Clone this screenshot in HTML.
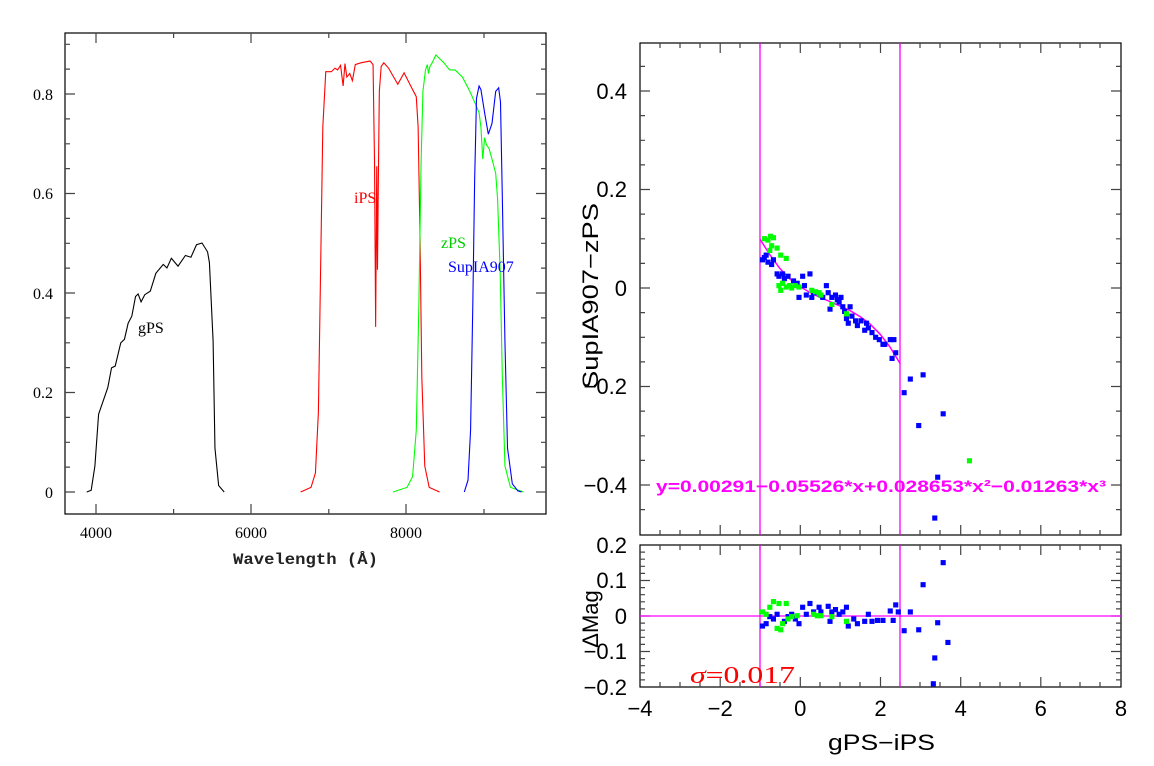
<!DOCTYPE html>
<html><head><meta charset="utf-8"><style>
html,body{margin:0;padding:0;background:#fff;}
svg{display:block;}
.ls{font-family:"Liberation Serif",serif;font-size:16px;}
.rs{font-family:"Liberation Sans",sans-serif;font-size:22px;}
</style></head><body>
<svg width="1154" height="766" viewBox="0 0 1154 766" xmlns="http://www.w3.org/2000/svg">
<!-- LEFT PLOT -->
<rect x="65" y="33" width="481" height="481" fill="none" stroke="#000" stroke-width="1.2"/>
<g stroke="#444" stroke-width="1.2">
<path d="M96 514v-10M251 514v-10M406 514v-10M96 33v10M251 33v10M406 33v10"/>
<path d="M173.6 514v-5M328.8 514v-5M484 514v-5M173.6 33v5M328.8 33v5M484 33v5"/>
<path d="M65 492h10M65 392.5h10M65 293h10M65 193.5h10M65 94h10M546 492h-10M546 392.5h-10M546 293h-10M546 193.5h-10M546 94h-10"/>
<path d="M65 467.1h5M65 442.3h5M65 417.4h5M65 367.6h5M65 342.8h5M65 317.9h5M65 268.1h5M65 243.3h5M65 218.4h5M65 168.6h5M65 143.8h5M65 118.9h5M65 69.1h5M65 44.3h5
M546 467.1h-5M546 442.3h-5M546 417.4h-5M546 367.6h-5M546 342.8h-5M546 317.9h-5M546 268.1h-5M546 243.3h-5M546 218.4h-5M546 168.6h-5M546 143.8h-5M546 118.9h-5M546 69.1h-5M546 44.3h-5"/>
</g>
<g class="ls" fill="#000" text-anchor="end">
<text x="53" y="498">0</text><text x="53" y="398">0.2</text><text x="53" y="299">0.4</text><text x="53" y="199">0.6</text><text x="53" y="100">0.8</text>
</g>
<g class="ls" fill="#000" text-anchor="middle">
<text x="96" y="538">4000</text><text x="251" y="538">6000</text><text x="406" y="538">8000</text>
</g>
<text x="233" y="564" textLength="145" lengthAdjust="spacingAndGlyphs" font-family="Liberation Mono,monospace" font-size="16" font-weight="bold" fill="#222">Wavelength (Å)</text>
<g transform="translate(0.7,20) scale(0.3694,0.35676)" fill="none" stroke-width="1.1">
<polyline vector-effect="non-scaling-stroke" stroke="#000" points="233,1323 245,1318 255,1250 265,1105 280,1060 290,1030 300,975 310,970 325,905 335,895 345,850 355,830 365,775 372,768 380,790 390,770 405,760 420,710 440,685 450,695 462,668 480,690 500,660 515,665 530,630 545,625 560,650 565,680 575,900 580,1200 590,1305 605,1323"/>
<polyline vector-effect="non-scaling-stroke" stroke="#f00" points="812,1323 840,1310 852,1270 860,1100 866,700 872,300 880,145 895,145 905,135 912,140 920,127 927,185 932,122 937,160 945,150 952,170 960,125 975,120 1000,115 1008,125 1012,400 1015,860 1018,410 1020,700 1022,480 1025,200 1030,130 1037,120 1050,135 1075,180 1092,148 1110,185 1125,215 1130,300 1135,600 1140,1000 1148,1250 1160,1310 1188,1323"/>
<polyline vector-effect="non-scaling-stroke" stroke="#0f0" points="1062,1323 1100,1310 1115,1280 1125,1150 1132,800 1138,400 1143,200 1150,140 1155,125 1158,150 1162,130 1168,120 1178,98 1185,105 1200,120 1215,140 1230,140 1250,160 1270,200 1285,235 1295,260 1300,300 1305,390 1310,330 1315,350 1322,360 1330,390 1340,430 1345,500 1352,700 1358,1000 1365,1250 1380,1310 1415,1323"/>
<polyline vector-effect="non-scaling-stroke" stroke="#00f" points="1255,1323 1265,1290 1272,1150 1278,800 1283,450 1288,220 1295,185 1300,195 1310,260 1320,320 1330,290 1340,200 1348,190 1353,230 1358,500 1365,900 1372,1200 1385,1300 1400,1320 1410,1323"/>
</g>
<text class="ls" x="138" y="333" fill="#000">gPS</text>
<text class="ls" x="354" y="203" fill="#f00">iPS</text>
<text class="ls" x="441" y="248" fill="#0c0">zPS</text>
<text class="ls" x="448" y="272" fill="#00f">SupIA907</text>

<!-- RIGHT PLOT -->
<rect x="640" y="43" width="481" height="492" fill="none" stroke="#000" stroke-width="1.2"/>
<rect x="640" y="545" width="481" height="142" fill="none" stroke="#000" stroke-width="1.2"/>
<g stroke="#444" stroke-width="1.2">
<path d="M720.2 535v-10M800.3 535v-10M880.5 535v-10M960.7 535v-10M1040.8 535v-10M720.2 43v10M800.3 43v10M880.5 43v10M960.7 43v10M1040.8 43v10
M720.2 687v-10M800.3 687v-10M880.5 687v-10M960.7 687v-10M1040.8 687v-10M720.2 545v10M800.3 545v10M880.5 545v10M960.7 545v10M1040.8 545v10"/>
<path d="M660 535v-5M680 535v-5M700 535v-5M740 535v-5M760 535v-5M780 535v-5M820 535v-5M840 535v-5M860 535v-5M900 535v-5M920 535v-5M940 535v-5M980 535v-5M1000 535v-5M1020 535v-5M1060 535v-5M1080 535v-5M1100 535v-5
M660 43v5M680 43v5M700 43v5M740 43v5M760 43v5M780 43v5M820 43v5M840 43v5M860 43v5M900 43v5M920 43v5M940 43v5M980 43v5M1000 43v5M1020 43v5M1060 43v5M1080 43v5M1100 43v5
M660 687v-5M680 687v-5M700 687v-5M740 687v-5M760 687v-5M780 687v-5M820 687v-5M840 687v-5M860 687v-5M900 687v-5M920 687v-5M940 687v-5M980 687v-5M1000 687v-5M1020 687v-5M1060 687v-5M1080 687v-5M1100 687v-5
M660 545v5M680 545v5M700 545v5M740 545v5M760 545v5M780 545v5M820 545v5M840 545v5M860 545v5M900 545v5M920 545v5M940 545v5M980 545v5M1000 545v5M1020 545v5M1060 545v5M1080 545v5M1100 545v5"/>
<path d="M640 91h10M640 189.5h10M640 288h10M640 386.5h10M640 485h10M1121 91h-10M1121 189.5h-10M1121 288h-10M1121 386.5h-10M1121 485h-10"/>
<path d="M640 66.4h5M640 115.6h5M640 140.3h5M640 164.9h5M640 214.1h5M640 238.8h5M640 263.4h5M640 312.6h5M640 337.3h5M640 361.9h5M640 411.1h5M640 435.8h5M640 460.4h5M640 509.6h5
M1121 66.4h-5M1121 115.6h-5M1121 140.3h-5M1121 164.9h-5M1121 214.1h-5M1121 238.8h-5M1121 263.4h-5M1121 312.6h-5M1121 337.3h-5M1121 361.9h-5M1121 411.1h-5M1121 435.8h-5M1121 460.4h-5M1121 509.6h-5"/>
<path d="M640 580.5h10M640 616h10M640 651.5h10M1121 580.5h-10M1121 616h-10M1121 651.5h-10"/>
<path d="M640 552.1h5M640 559.2h5M640 566.3h5M640 573.4h5M640 587.6h5M640 594.7h5M640 601.8h5M640 608.9h5M640 623.1h5M640 630.2h5M640 637.3h5M640 644.4h5M640 658.6h5M640 665.7h5M640 672.8h5M640 679.9h5
M1121 552.1h-5M1121 559.2h-5M1121 566.3h-5M1121 573.4h-5M1121 587.6h-5M1121 594.7h-5M1121 601.8h-5M1121 608.9h-5M1121 623.1h-5M1121 630.2h-5M1121 637.3h-5M1121 644.4h-5M1121 658.6h-5M1121 665.7h-5M1121 672.8h-5M1121 679.9h-5"/>
</g>
<g class="rs" fill="#000" text-anchor="end">
<text x="627" y="99">0.4</text><text x="627" y="197">0.2</text><text x="627" y="296">0</text><text x="627" y="394">−0.2</text><text x="627" y="493">−0.4</text>
<text x="627" y="553">0.2</text><text x="627" y="588">0.1</text><text x="627" y="624">0</text><text x="627" y="659">−0.1</text><text x="627" y="695">−0.2</text>
</g>
<g class="rs" fill="#000" text-anchor="middle">
<text x="640" y="716">−4</text><text x="720.2" y="716">−2</text><text x="800.3" y="716">0</text><text x="880.5" y="716">2</text><text x="960.7" y="716">4</text><text x="1040.8" y="716">6</text><text x="1121" y="716">8</text>
</g>
<text class="rs" x="828" y="750" textLength="107" lengthAdjust="spacingAndGlyphs" fill="#000">gPS−iPS</text>
<text class="rs" transform="translate(598,296) rotate(-90)" x="-93" textLength="186" lengthAdjust="spacingAndGlyphs" fill="#000">SupIA907−zPS</text>
<text class="rs" transform="translate(598,619) rotate(-90)" text-anchor="middle" fill="#000">ΔMag</text>
<g stroke="#f0f" stroke-width="1.3">
<path d="M760 43V535M900 43V535M760 545V687M900 545V687M640 616H1121"/>
</g>
<polyline fill="none" stroke="#f0f" stroke-width="1.5" points="759.9,239 770,255 780,268.7 790,279 800,286.6 810,292.5 820,297.4 830,301.6 840.1,306 850,310.6 860.1,316.6 870,324 880.2,334.3 890,347 900.2,363.6"/>
<text x="656" y="492" textLength="450" lengthAdjust="spacingAndGlyphs" font-family="Liberation Sans,sans-serif" font-size="17" font-weight="bold" fill="#f0f">y=0.00291−0.05526*x+0.028653*x²−0.01263*x³</text>
<text x="690" y="683" textLength="105" lengthAdjust="spacingAndGlyphs" font-family="Liberation Serif,serif" font-size="24" fill="#f00"><tspan font-style="italic">σ</tspan>=0.017</text>
<g transform="translate(580,30) scale(0.365,0.4695)">
<g fill="#00f">
<rect x="493" y="484" width="14" height="11"/><rect x="498" y="479" width="14" height="11"/><rect x="503" y="474" width="14" height="11"/><rect x="508" y="489" width="14" height="11"/><rect x="518" y="494" width="14" height="11"/><rect x="523" y="484" width="14" height="11"/><rect x="533" y="514" width="14" height="11"/><rect x="538" y="519" width="14" height="11"/><rect x="548" y="514" width="14" height="11"/><rect x="553" y="524" width="14" height="11"/><rect x="563" y="519" width="14" height="11"/><rect x="568" y="539" width="14" height="11"/><rect x="578" y="529" width="14" height="11"/><rect x="588" y="534" width="14" height="11"/><rect x="593" y="564" width="14" height="11"/><rect x="603" y="519" width="14" height="11"/><rect x="608" y="539" width="14" height="11"/><rect x="613" y="559" width="14" height="11"/><rect x="623" y="514" width="14" height="11"/><rect x="628" y="564" width="14" height="11"/><rect x="633" y="554" width="14" height="11"/><rect x="643" y="554" width="14" height="11"/><rect x="653" y="559" width="14" height="11"/><rect x="658" y="564" width="14" height="11"/><rect x="668" y="539" width="14" height="11"/><rect x="673" y="554" width="14" height="11"/><rect x="678" y="589" width="14" height="11"/><rect x="683" y="564" width="14" height="11"/><rect x="693" y="559" width="14" height="11"/><rect x="698" y="569" width="14" height="11"/><rect x="703" y="574" width="14" height="11"/><rect x="708" y="564" width="14" height="11"/><rect x="713" y="584" width="14" height="11"/><rect x="718" y="594" width="14" height="11"/><rect x="723" y="609" width="14" height="11"/><rect x="728" y="619" width="14" height="11"/><rect x="733" y="584" width="14" height="11"/><rect x="738" y="604" width="14" height="11"/><rect x="748" y="614" width="14" height="11"/><rect x="753" y="624" width="14" height="11"/><rect x="763" y="614" width="14" height="11"/><rect x="773" y="634" width="14" height="11"/><rect x="778" y="619" width="14" height="11"/><rect x="783" y="629" width="14" height="11"/><rect x="793" y="639" width="14" height="11"/><rect x="803" y="649" width="14" height="11"/><rect x="813" y="654" width="14" height="11"/><rect x="823" y="664" width="14" height="11"/><rect x="828" y="664" width="14" height="11"/><rect x="843" y="654" width="14" height="11"/><rect x="853" y="654" width="14" height="11"/><rect x="858" y="682" width="14" height="11"/><rect x="848" y="694" width="14" height="11"/>
<rect x="881" y="767" width="14" height="11"/><rect x="898" y="738" width="14" height="11"/><rect x="933" y="729" width="14" height="11"/><rect x="921" y="837" width="14" height="11"/><rect x="988" y="812" width="14" height="11"/><rect x="973" y="947" width="14" height="11"/><rect x="965" y="1034" width="14" height="11"/>
<rect x="493" y="1264" width="14" height="11"/><rect x="503" y="1259" width="14" height="11"/><rect x="513" y="1244" width="14" height="11"/><rect x="523" y="1249" width="14" height="11"/><rect x="533" y="1239" width="14" height="11"/><rect x="553" y="1254" width="14" height="11"/><rect x="563" y="1244" width="14" height="11"/><rect x="573" y="1239" width="14" height="11"/><rect x="583" y="1249" width="14" height="11"/><rect x="593" y="1259" width="14" height="11"/><rect x="603" y="1224" width="14" height="11"/><rect x="613" y="1239" width="14" height="11"/><rect x="623" y="1216" width="14" height="11"/><rect x="633" y="1234" width="14" height="11"/><rect x="648" y="1224" width="14" height="11"/><rect x="653" y="1234" width="14" height="11"/><rect x="673" y="1222" width="14" height="11"/><rect x="678" y="1254" width="14" height="11"/><rect x="683" y="1234" width="14" height="11"/><rect x="693" y="1229" width="14" height="11"/><rect x="703" y="1239" width="14" height="11"/><rect x="713" y="1234" width="14" height="11"/><rect x="723" y="1224" width="14" height="11"/><rect x="728" y="1264" width="14" height="11"/><rect x="743" y="1249" width="14" height="11"/><rect x="753" y="1259" width="14" height="11"/><rect x="773" y="1254" width="14" height="11"/><rect x="783" y="1239" width="14" height="11"/><rect x="793" y="1254" width="14" height="11"/><rect x="808" y="1252" width="14" height="11"/><rect x="823" y="1252" width="14" height="11"/><rect x="843" y="1232" width="14" height="11"/><rect x="851" y="1252" width="14" height="11"/><rect x="858" y="1219" width="14" height="11"/><rect x="865" y="1234" width="14" height="11"/>
<rect x="881" y="1274" width="14" height="11"/><rect x="898" y="1234" width="14" height="11"/><rect x="933" y="1176" width="14" height="11"/><rect x="921" y="1272" width="14" height="11"/><rect x="988" y="1129" width="14" height="11"/><rect x="973" y="1257" width="14" height="11"/><rect x="1001" y="1299" width="14" height="11"/><rect x="965" y="1332" width="14" height="11"/><rect x="961" y="1387" width="14" height="11"/>
</g>
<g fill="#0f0">
<rect x="498" y="439" width="14" height="11"/><rect x="508" y="442" width="14" height="11"/><rect x="515" y="434" width="14" height="11"/><rect x="523" y="437" width="14" height="11"/><rect x="518" y="454" width="14" height="11"/><rect x="513" y="464" width="14" height="11"/><rect x="533" y="459" width="14" height="11"/><rect x="543" y="474" width="14" height="11"/><rect x="558" y="481" width="14" height="11"/><rect x="538" y="539" width="14" height="11"/><rect x="543" y="549" width="14" height="11"/><rect x="548" y="534" width="14" height="11"/><rect x="558" y="542" width="14" height="11"/><rect x="568" y="539" width="14" height="11"/><rect x="573" y="544" width="14" height="11"/><rect x="583" y="539" width="14" height="11"/><rect x="593" y="542" width="14" height="11"/><rect x="628" y="549" width="14" height="11"/><rect x="638" y="552" width="14" height="11"/><rect x="648" y="554" width="14" height="11"/><rect x="653" y="559" width="14" height="11"/><rect x="683" y="579" width="14" height="11"/><rect x="723" y="599" width="14" height="11"/><rect x="1060" y="912" width="14" height="11"/>
<rect x="493" y="1234" width="14" height="11"/><rect x="503" y="1239" width="14" height="11"/><rect x="513" y="1224" width="14" height="11"/><rect x="523" y="1212" width="14" height="11"/><rect x="538" y="1216" width="14" height="11"/><rect x="558" y="1216" width="14" height="11"/><rect x="533" y="1269" width="14" height="11"/><rect x="543" y="1272" width="14" height="11"/><rect x="548" y="1259" width="14" height="11"/><rect x="563" y="1249" width="14" height="11"/><rect x="573" y="1244" width="14" height="11"/><rect x="588" y="1242" width="14" height="11"/><rect x="633" y="1239" width="14" height="11"/><rect x="643" y="1242" width="14" height="11"/><rect x="653" y="1242" width="14" height="11"/><rect x="683" y="1244" width="14" height="11"/><rect x="723" y="1254" width="14" height="11"/>
</g>
</g>
</svg>
</body></html>
